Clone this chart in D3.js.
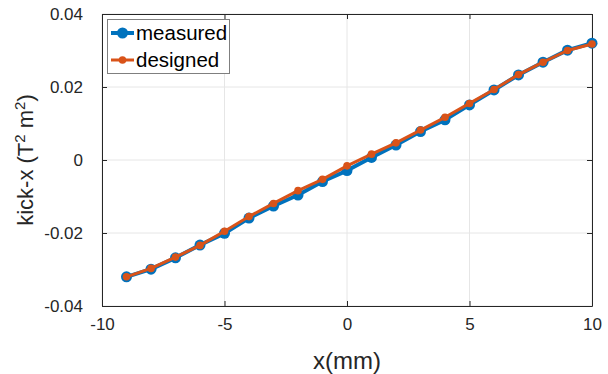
<!DOCTYPE html>
<html>
<head>
<meta charset="utf-8">
<script src="https://cdn.jsdelivr.net/npm/d3@7"></script>
<style>
  html, body { margin: 0; padding: 0; background: #fff; }
  svg { display: block; font-family: Arial, "Liberation Sans", Helvetica, sans-serif; }
</style>
</head>
<body>
<svg id="chart" width="608" height="374"></svg>
<script>
// ---- data ----
const xValues = [-9,-8,-7,-6,-5,-4,-3,-2,-1,0,1,2,3,4,5,6,7,8,9,10];
const measured = [-0.0320,-0.0299,-0.0268,-0.0233,-0.0201,-0.0159,-0.0126,-0.0096,-0.0059,-0.0029,
                  0.0007,0.0041,0.0078,0.0110,0.0151,0.0192,0.0233,0.0268,0.0301,0.0320];
const designed = [-0.0320,-0.0297,-0.0266,-0.0234,-0.0195,-0.0155,-0.0119,-0.0084,-0.0053,-0.0016,
                  0.0016,0.0047,0.0082,0.0117,0.0155,0.0193,0.0234,0.0268,0.0300,0.0318];
const xTicks = [-10,-5,0,5,10];
const xTickLabels = ["-10","-5","0","5","10"];
const yTicks = [-0.04,-0.02,0,0.02,0.04];
const yTickLabels = ["-0.04","-0.02","0","0.02","0.04"];
const seriesNames = ["measured","designed"];
const seriesColors = ["#0072BD","#D95319"];

// ---- layout ----
const svg = d3.select("#chart");
const L = 102, R = 592, T = 14, B = 306;
const x = d3.scaleLinear().domain([-10,10]).range([L,R]);
const y = d3.scaleLinear().domain([-0.04,0.04]).range([B,T]);
const axisColor = "#262626";

// grid
const grid = svg.append("g");
grid.selectAll("line.gx").data(xTicks).enter().append("line")
  .attr("x1", d=>x(d)).attr("x2", d=>x(d)).attr("y1", T).attr("y2", B)
  .attr("stroke", "#e6e6e6").attr("stroke-width", 1);
grid.selectAll("line.gy").data(yTicks).enter().append("line")
  .attr("x1", L).attr("x2", R).attr("y1", d=>y(d)).attr("y2", d=>y(d))
  .attr("stroke", "#e6e6e6").attr("stroke-width", 1);

// axes
const xAxis = d3.axisBottom(x).tickValues(xTicks).tickSizeInner(-5).tickSizeOuter(0).tickPadding(12)
  .tickFormat((d,i)=>xTickLabels[i]);
svg.append("g").attr("transform", `translate(0,${B})`).call(xAxis);
const yAxis = d3.axisLeft(y).tickValues(yTicks).tickSizeInner(-5).tickSizeOuter(0).tickPadding(19)
  .tickFormat((d,i)=>yTickLabels[i]);
svg.append("g").attr("transform", `translate(${L},0)`).call(yAxis);
const xAxisTop = d3.axisTop(x).tickValues(xTicks).tickSizeInner(-5).tickSizeOuter(0).tickFormat("");
svg.append("g").attr("transform", `translate(0,${T})`).call(xAxisTop);
const yAxisRight = d3.axisRight(y).tickValues(yTicks).tickSizeInner(-5).tickSizeOuter(0).tickFormat("");
svg.append("g").attr("transform", `translate(${R},0)`).call(yAxisRight);

svg.selectAll(".domain").attr("stroke", axisColor).attr("stroke-width", 1);
svg.selectAll(".tick line").attr("stroke", axisColor);
svg.selectAll(".tick text").attr("fill", "#262626").style("font-size", "17px")
  .style("font-family", "Arial, 'Liberation Sans', sans-serif");

// axis labels
svg.append("text").attr("x", (L+R)/2).attr("y", 369).attr("text-anchor", "middle")
  .attr("fill", "#262626").style("font-size", "24px").text("x(mm)");
const yl = svg.append("text").attr("transform", `translate(33,${(T+B)/2}) rotate(-90)`)
  .attr("text-anchor", "middle").attr("fill", "#262626").style("font-size", "22px");
yl.append("tspan").text("kick-x (T");
yl.append("tspan").attr("dy", -8).style("font-size", "15px").text("2");
yl.append("tspan").attr("dy", 8).text(" m");
yl.append("tspan").attr("dy", -8).style("font-size", "15px").text("2");
yl.append("tspan").attr("dy", 8).text(")");

// series
const seriesData = [measured, designed];
const lineW = [4, 3];
const markR = [5.5, 3.8];
seriesData.forEach((vals, si) => {
  const pts = xValues.map((xv,i)=>({x:xv, y:vals[i]}));
  const line = d3.line().x(d=>x(d.x)).y(d=>y(d.y));
  svg.append("path").datum(pts).attr("d", line).attr("fill","none")
    .attr("stroke", seriesColors[si]).attr("stroke-width", lineW[si]).attr("stroke-linejoin","round");
  svg.append("g").selectAll("circle").data(pts).enter().append("circle")
    .attr("cx", d=>x(d.x)).attr("cy", d=>y(d.y)).attr("r", markR[si])
    .attr("fill", seriesColors[si]);
});

// legend
const lg = svg.append("g");
lg.append("rect").attr("x", 107.5).attr("y", 19.5).attr("width", 122).attr("height", 54)
  .attr("fill", "#fff").attr("stroke", "#7f7f7f").attr("stroke-width", 1);
seriesNames.forEach((name, si) => {
  const cy = 33 + si*27;
  lg.append("line").attr("x1", 111).attr("x2", 134).attr("y1", cy).attr("y2", cy)
    .attr("stroke", seriesColors[si]).attr("stroke-width", lineW[si]);
  lg.append("circle").attr("cx", 122.5).attr("cy", cy).attr("r", markR[si]).attr("fill", seriesColors[si]);
  lg.append("text").attr("x", 136).attr("y", cy + 7).attr("fill", "#000")
    .style("font-size", "20.5px").text(name);
});
</script>
</body>
</html>
